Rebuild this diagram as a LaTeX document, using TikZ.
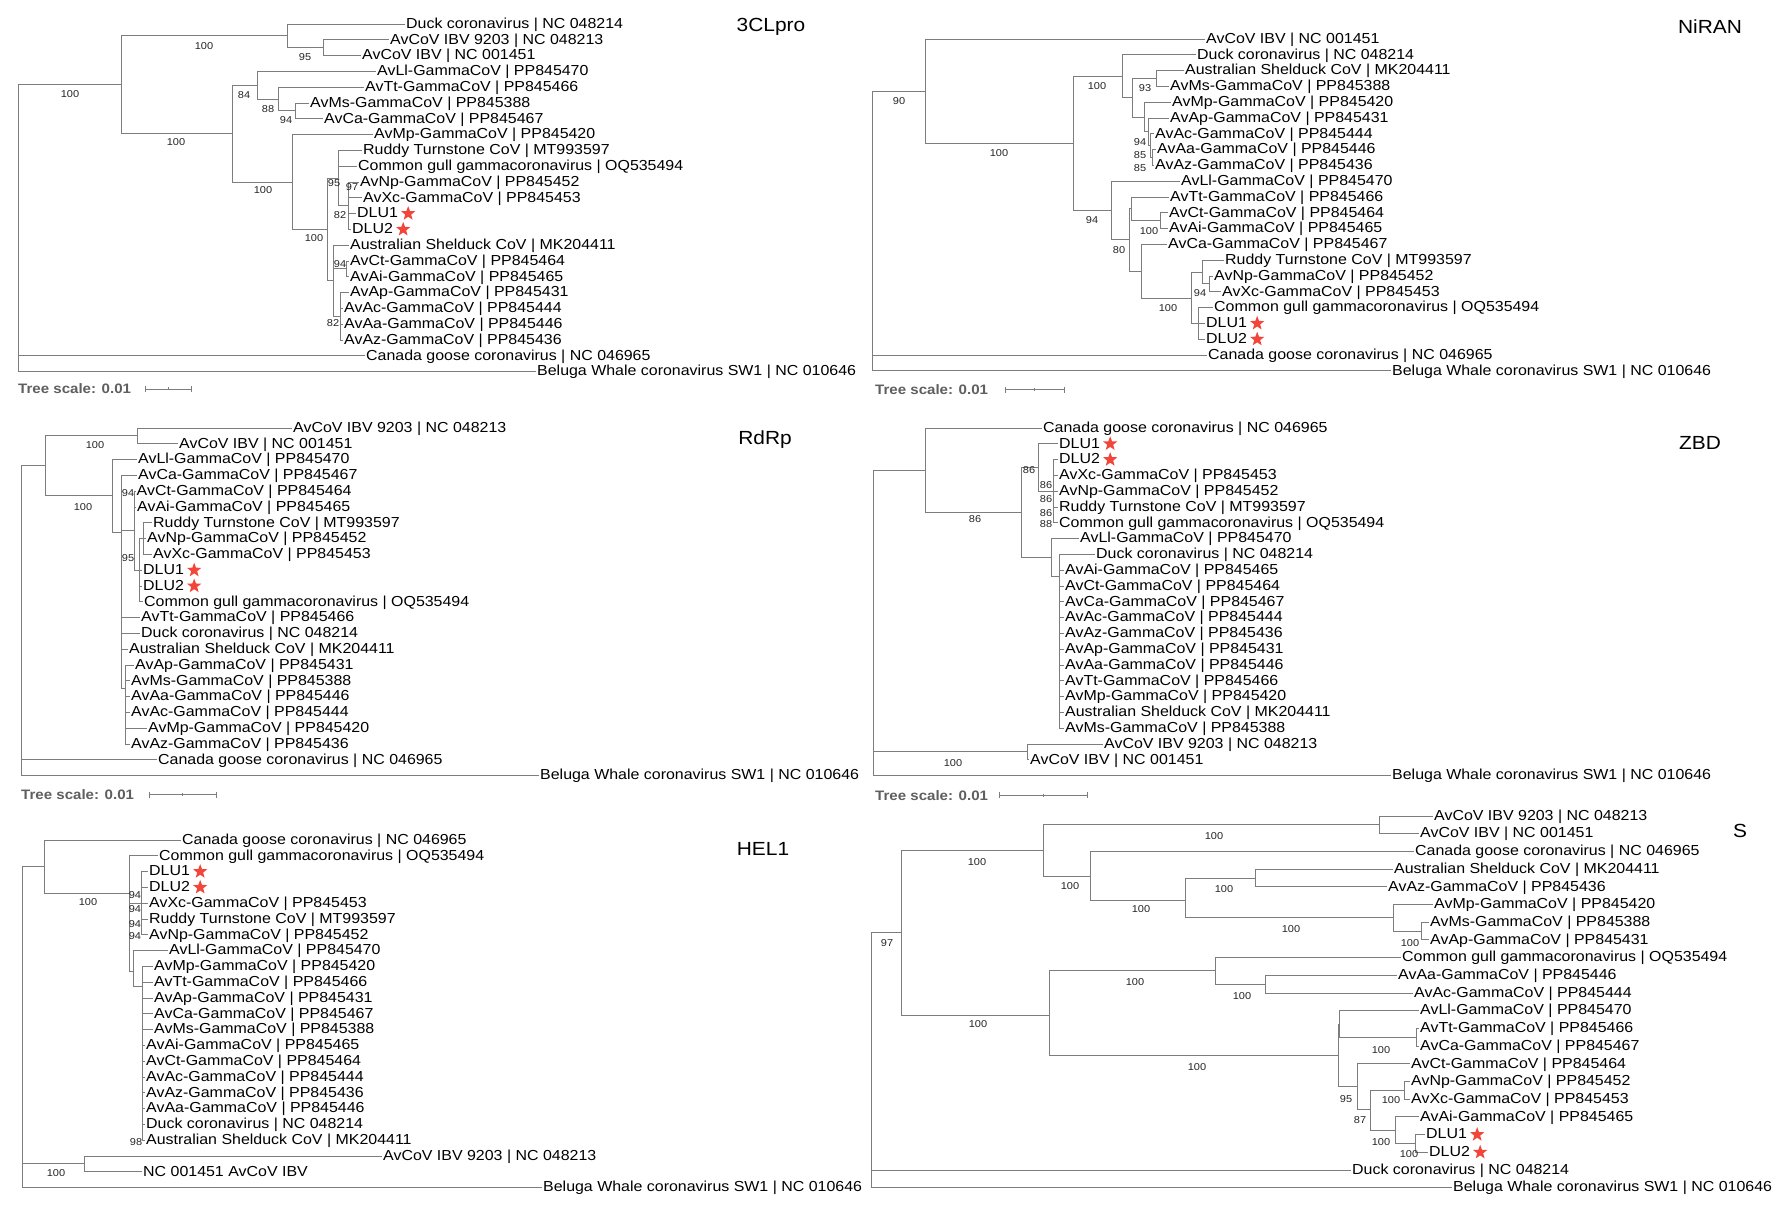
\documentclass[tikz,border=0pt]{standalone}
\usepackage{fontspec}
\setmainfont{Liberation Sans}[FakeStretch=1.10]
\usetikzlibrary{shapes.geometric}

\definecolor{branchgray}{RGB}{125,125,125}
\definecolor{starred}{RGB}{243,70,58}
\definecolor{scalegray}{RGB}{95,95,95}

\tikzset{
  leaf/.style={anchor=west, inner sep=1pt, text height=11pt, text depth=2.5pt, font=\fontsize{14.5}{16}\selectfont},
  boot/.style={inner sep=0pt, font=\fontsize{10}{11}\selectfont, text=black!85},
  branch/.style={draw=branchgray, line width=0.9pt},
  paneltitle/.style={inner sep=0pt, font=\fontsize{19}{20}\selectfont},
  scaletext/.style={anchor=west, inner sep=0pt, font=\bfseries\fontsize{13.7}{15}\selectfont, text=scalegray},
  scalebar/.style={draw=branchgray, line width=0.8pt},
  dlustar/.style={star, star points=5, star point ratio=2.4, minimum size=15pt, inner sep=0pt, fill=starred, draw=none}
}

\begin{document}
\begin{tikzpicture}[x=1pt, y=-1pt]
\fill[white] (0,0) rectangle (1788,1209);
\useasboundingbox (0,0) rectangle (1788,1209);

% ---------------- 3CLpro
\begin{scope}[yshift=-24pt, y=-15.8pt]
\node[paneltitle] (atitle) at (771,0.2) {3CLpro};
\node[leaf] (a0) at (405,0) {Duck coronavirus | NC 048214};
\node[leaf] (a1) at (389,1) {AvCoV IBV 9203 | NC 048213};
\node[leaf] (a2) at (361,2) {AvCoV IBV | NC 001451};
\node[leaf] (a3) at (376,3) {AvLl-GammaCoV | PP845470};
\node[leaf] (a4) at (364,4) {AvTt-GammaCoV | PP845466};
\node[leaf] (a5) at (309,5) {AvMs-GammaCoV | PP845388};
\node[leaf] (a6) at (323,6) {AvCa-GammaCoV | PP845467};
\node[leaf] (a7) at (373,7) {AvMp-GammaCoV | PP845420};
\node[leaf] (a8) at (362,8) {Ruddy Turnstone CoV | MT993597};
\node[leaf] (a9) at (357,9) {Common gull gammacoronavirus | OQ535494};
\node[leaf] (a10) at (359,10) {AvNp-GammaCoV | PP845452};
\node[leaf] (a11) at (362,11) {AvXc-GammaCoV | PP845453};
\node[leaf] (a12) at (356,12) {DLU1};
\node[leaf] (a13) at (351,13) {DLU2};
\node[leaf] (a14) at (349,14) {Australian Shelduck CoV | MK204411};
\node[leaf] (a15) at (349,15) {AvCt-GammaCoV | PP845464};
\node[leaf] (a16) at (349,16) {AvAi-GammaCoV | PP845465};
\node[leaf] (a17) at (349,17) {AvAp-GammaCoV | PP845431};
\node[leaf] (a18) at (343,18) {AvAc-GammaCoV | PP845444};
\node[leaf] (a19) at (343,19) {AvAa-GammaCoV | PP845446};
\node[leaf] (a20) at (343,20) {AvAz-GammaCoV | PP845436};
\node[leaf] (a21) at (365,21) {Canada goose coronavirus | NC 046965};
\node[leaf] (a22) at (536,22) {Beluga Whale coronavirus SW1 | NC 010646};
\node[dlustar] (a12s) at ([xshift=9pt]a12.east) {};
\node[dlustar] (a13s) at ([xshift=9pt]a13.east) {};

\coordinate (aR) at (18,3.84);
\coordinate (aN1) at (121,3.84);
\coordinate (aN2) at (287,0.75);
\coordinate (aB) at (323,1.5);
\coordinate (aN3) at (232,6.94);
\coordinate (aN4) at (257,3.875);
\coordinate (aN7) at (278,4.75);
\coordinate (aN8) at (295,5.5);
\coordinate (aN5) at (292,10);
\coordinate (aN6) at (327,13);
\coordinate (aN9) at (338,9.75);
\coordinate (aN11) at (348,11.5);
\coordinate (aN10) at (333,16.25);
\coordinate (aN12) at (346,15.5);
\coordinate (aN13) at (340,18.5);

\draw[branch] (aR) |- (aN1) (aR) |- (a21.west) (aR) |- (a22.west)
  (aN1) |- (aN2) (aN1) |- (aN3)
  (aN2) |- (a0.west) (aN2) |- (aB)
  (aB) |- (a1.west) (aB) |- (a2.west)
  (aN3) |- (aN4) (aN3) |- (aN5)
  (aN4) |- (a3.west) (aN4) |- (aN7)
  (aN7) |- (a4.west) (aN7) |- (aN8)
  (aN8) |- (a5.west) (aN8) |- (a6.west)
  (aN5) |- (a7.west) (aN5) |- (aN6)
  (aN6) |- (aN9) (aN6) |- (aN10)
  (aN9) |- (a8.west) (aN9) |- (a9.west) (aN9) |- (aN11)
  (aN11) |- (a10.west) (aN11) |- (a11.west) (aN11) |- (a12.west) (aN11) |- (a13.west)
  (aN10) |- (a14.west) (aN10) |- (aN12) (aN10) |- (aN13)
  (aN12) |- (a15.west) (aN12) |- (a16.west)
  (aN13) |- (a17.west) (aN13) |- (a18.west) (aN13) |- (a19.west) (aN13) |- (a20.west);

\node[boot] (ab1) at (70,4.45) {100};
\node[boot] (ab2) at (204,1.4) {100};
\node[boot] (ab3) at (305,2.1) {95};
\node[boot] (ab4) at (176,7.5) {100};
\node[boot] (ab5) at (244,4.5) {84};
\node[boot] (ab6) at (268,5.4) {88};
\node[boot] (ab7) at (286,6.1) {94};
\node[boot] (ab8) at (263,10.5) {100};
\node[boot] (ab9) at (314,13.55) {100};
\node[boot] (ab10) at (334,10.05) {95};
\node[boot] (ab11) at (352,10.3) {97};
\node[boot] (ab12) at (340,12.1) {82};
\node[boot] (ab13) at (340,15.2) {94};
\node[boot] (ab14) at (333,18.9) {82};

\node[scaletext] (ascale) at (18,23.1) {Tree scale: 0.01};
\coordinate (asb1) at (145,23.1);
\coordinate (asbm) at (168,23.1);
\coordinate (asb2) at (191,23.1);
\draw[scalebar] (asb1) -- (asb2)
  ([yshift=3pt]asb1) -- ([yshift=-3pt]asb1) ([yshift=3pt]asb2) -- ([yshift=-3pt]asb2)
  ([yshift=1.5pt]asbm) -- ([yshift=-1.5pt]asbm);
\end{scope}

% ---------------- NiRAN
\begin{scope}[yshift=-39pt, y=-15.8pt]
\node[paneltitle] (btitle) at (1710,-0.8) {NiRAN};
\node[leaf] (b0) at (1205,0) {AvCoV IBV | NC 001451};
\node[leaf] (b1) at (1196,1) {Duck coronavirus | NC 048214};
\node[leaf] (b2) at (1184,2) {Australian Shelduck CoV | MK204411};
\node[leaf] (b3) at (1169,3) {AvMs-GammaCoV | PP845388};
\node[leaf] (b4) at (1171,4) {AvMp-GammaCoV | PP845420};
\node[leaf] (b5) at (1169,5) {AvAp-GammaCoV | PP845431};
\node[leaf] (b6) at (1154,6) {AvAc-GammaCoV | PP845444};
\node[leaf] (b7) at (1156,7) {AvAa-GammaCoV | PP845446};
\node[leaf] (b8) at (1154,8) {AvAz-GammaCoV | PP845436};
\node[leaf] (b9) at (1180,9) {AvLl-GammaCoV | PP845470};
\node[leaf] (b10) at (1169,10) {AvTt-GammaCoV | PP845466};
\node[leaf] (b11) at (1168,11) {AvCt-GammaCoV | PP845464};
\node[leaf] (b12) at (1168,12) {AvAi-GammaCoV | PP845465};
\node[leaf] (b13) at (1167,13) {AvCa-GammaCoV | PP845467};
\node[leaf] (b14) at (1224,14) {Ruddy Turnstone CoV | MT993597};
\node[leaf] (b15) at (1213,15) {AvNp-GammaCoV | PP845452};
\node[leaf] (b16) at (1221,16) {AvXc-GammaCoV | PP845453};
\node[leaf] (b17) at (1213,17) {Common gull gammacoronavirus | OQ535494};
\node[leaf] (b18) at (1205,18) {DLU1};
\node[leaf] (b19) at (1205,19) {DLU2};
\node[leaf] (b20) at (1207,20) {Canada goose coronavirus | NC 046965};
\node[leaf] (b21) at (1391,21) {Beluga Whale coronavirus SW1 | NC 010646};
\node[dlustar] (b18s) at ([xshift=9pt]b18.east) {};
\node[dlustar] (b19s) at ([xshift=9pt]b19.east) {};

\coordinate (bR) at (872,3.3);
\coordinate (bN1) at (925,3.3);
\coordinate (bN2) at (1073,6.61);
\coordinate (bN3) at (1122,2.36);
\coordinate (bN5) at (1132,3.72);
\coordinate (bN6) at (1156,2.5);
\coordinate (bN7) at (1144,4.94);
\coordinate (bN8) at (1148,5.875);
\coordinate (bN9) at (1150,6.75);
\coordinate (bN10) at (1152,7.5);
\coordinate (bN4) at (1111,10.86);
\coordinate (bN11) at (1129,12.7);
\coordinate (bN12) at (1131,10.75);
\coordinate (bN14) at (1160,11.5);
\coordinate (bN13) at (1141,14.7);
\coordinate (bN15) at (1191,16.4);
\coordinate (bN16) at (1202,14.75);
\coordinate (bN18) at (1209,15.5);
\coordinate (bN17) at (1198,18);

\draw[branch] (bR) |- (bN1) (bR) |- (b20.west) (bR) |- (b21.west)
  (bN1) |- (b0.west) (bN1) |- (bN2)
  (bN2) |- (bN3) (bN2) |- (bN4)
  (bN3) |- (b1.west) (bN3) |- (bN5)
  (bN5) |- (bN6) (bN5) |- (bN7)
  (bN6) |- (b2.west) (bN6) |- (b3.west)
  (bN7) |- (b4.west) (bN7) |- (bN8)
  (bN8) |- (b5.west) (bN8) |- (bN9)
  (bN9) |- (b6.west) (bN9) |- (bN10)
  (bN10) |- (b7.west) (bN10) |- (b8.west)
  (bN4) |- (b9.west) (bN4) |- (bN11)
  (bN11) |- (bN12) (bN11) |- (bN13)
  (bN12) |- (b10.west) (bN12) |- (bN14)
  (bN14) |- (b11.west) (bN14) |- (b12.west)
  (bN13) |- (b13.west) (bN13) |- (bN15)
  (bN15) |- (bN16) (bN15) |- (bN17)
  (bN16) |- (b14.west) (bN16) |- (bN18)
  (bN18) |- (b15.west) (bN18) |- (b16.west)
  (bN17) |- (b17.west) (bN17) |- (b18.west) (bN17) |- (b19.west);

\node[boot] (bb1) at (899,3.9) {90};
\node[boot] (bb2) at (999,7.2) {100};
\node[boot] (bb3) at (1097,2.96) {100};
\node[boot] (bb4) at (1092,11.46) {94};
\node[boot] (bb5) at (1145,3.1) {93};
\node[boot] (bb6) at (1140,6.5) {94};
\node[boot] (bb7) at (1140,7.35) {85};
\node[boot] (bb8) at (1140,8.15) {85};
\node[boot] (bb9) at (1119,13.35) {80};
\node[boot] (bb10) at (1149,12.15) {100};
\node[boot] (bb11) at (1168,17.0) {100};
\node[boot] (bb12) at (1200,16.1) {94};

\node[scaletext] (bscale) at (875,22.2) {Tree scale: 0.01};
\coordinate (bsb1) at (1005,22.2);
\coordinate (bsbm) at (1034,22.2);
\coordinate (bsb2) at (1064,22.2);
\draw[scalebar] (bsb1) -- (bsb2)
  ([yshift=3pt]bsb1) -- ([yshift=-3pt]bsb1) ([yshift=3pt]bsb2) -- ([yshift=-3pt]bsb2)
  ([yshift=1.5pt]bsbm) -- ([yshift=-1.5pt]bsbm);
\end{scope}

% ---------------- RdRp
\begin{scope}[yshift=-428pt, y=-15.8pt]
\node[paneltitle] (ctitle) at (765,0.76) {RdRp};
\node[leaf] (c0) at (292,0) {AvCoV IBV 9203 | NC 048213};
\node[leaf] (c1) at (178,1) {AvCoV IBV | NC 001451};
\node[leaf] (c2) at (137,2) {AvLl-GammaCoV | PP845470};
\node[leaf] (c3) at (137,3) {AvCa-GammaCoV | PP845467};
\node[leaf] (c4) at (135.5,4) {AvCt-GammaCoV | PP845464};
\node[leaf] (c5) at (136,5) {AvAi-GammaCoV | PP845465};
\node[leaf] (c6) at (152,6) {Ruddy Turnstone CoV | MT993597};
\node[leaf] (c7) at (146,7) {AvNp-GammaCoV | PP845452};
\node[leaf] (c8) at (152,8) {AvXc-GammaCoV | PP845453};
\node[leaf] (c9) at (142,9) {DLU1};
\node[leaf] (c10) at (142,10) {DLU2};
\node[leaf] (c11) at (143,11) {Common gull gammacoronavirus | OQ535494};
\node[leaf] (c12) at (140,12) {AvTt-GammaCoV | PP845466};
\node[leaf] (c13) at (140,13) {Duck coronavirus | NC 048214};
\node[leaf] (c14) at (128,14) {Australian Shelduck CoV | MK204411};
\node[leaf] (c15) at (134,15) {AvAp-GammaCoV | PP845431};
\node[leaf] (c16) at (130,16) {AvMs-GammaCoV | PP845388};
\node[leaf] (c17) at (130,17) {AvAa-GammaCoV | PP845446};
\node[leaf] (c18) at (130,18) {AvAc-GammaCoV | PP845444};
\node[leaf] (c19) at (147,19) {AvMp-GammaCoV | PP845420};
\node[leaf] (c20) at (130,20) {AvAz-GammaCoV | PP845436};
\node[leaf] (c21) at (157,21) {Canada goose coronavirus | NC 046965};
\node[leaf] (c22) at (539,22) {Beluga Whale coronavirus SW1 | NC 010646};
\node[dlustar] (c9s) at ([xshift=9pt]c9.east) {};
\node[dlustar] (c10s) at ([xshift=9pt]c10.east) {};

\coordinate (cR) at (21,2.4);
\coordinate (cN1) at (45,2.4);
\coordinate (cN2) at (137,0.5);
\coordinate (cN3) at (112,4.3);
\coordinate (cN4) at (121,6.6);
\coordinate (cN5) at (134,6.5);
\coordinate (cN6) at (139,9);
\coordinate (cN8) at (143,7);
\coordinate (cN7) at (125,16.5);

\draw[branch] (cR) |- (cN1) (cR) |- (c21.west) (cR) |- (c22.west)
  (cN1) |- (cN2) (cN1) |- (cN3)
  (cN2) |- (c0.west) (cN2) |- (c1.west)
  (cN3) |- (c2.west) (cN3) |- (cN4)
  (cN4) |- (c3.west) (cN4) |- (cN5) (cN4) |- (c12.west) (cN4) |- (c13.west)
  (cN4) |- (c14.west) (cN4) |- (cN7)
  (cN5) |- (c4.west) (cN5) |- (c5.west) (cN5) |- (cN6)
  (cN6) |- (cN8) (cN6) |- (c9.west) (cN6) |- (c10.west) (cN6) |- (c11.west)
  (cN8) |- (c6.west) (cN8) |- (c7.west) (cN8) |- (c8.west)
  (cN7) |- (c15.west) (cN7) |- (c16.west) (cN7) |- (c17.west)
  (cN7) |- (c18.west) (cN7) |- (c19.west) (cN7) |- (c20.west);

\node[boot] (cb1) at (95,1.1) {100};
\node[boot] (cb2) at (83,5.0) {100};
\node[boot] (cb3) at (128,4.1) {94};
\node[boot] (cb4) at (128,8.2) {95};

\node[scaletext] (cscale) at (21,23.2) {Tree scale: 0.01};
\coordinate (csb1) at (149,23.2);
\coordinate (csbm) at (182,23.2);
\coordinate (csb2) at (216,23.2);
\draw[scalebar] (csb1) -- (csb2)
  ([yshift=3pt]csb1) -- ([yshift=-3pt]csb1) ([yshift=3pt]csb2) -- ([yshift=-3pt]csb2)
  ([yshift=1.5pt]csbm) -- ([yshift=-1.5pt]csbm);
\end{scope}

% ---------------- ZBD
\begin{scope}[yshift=-428pt, y=-15.8pt]
\node[paneltitle] (dtitle) at (1700,0.95) {ZBD};
\node[leaf] (d0) at (1042,0) {Canada goose coronavirus | NC 046965};
\node[leaf] (d1) at (1058,1) {DLU1};
\node[leaf] (d2) at (1058,2) {DLU2};
\node[leaf] (d3) at (1058,3) {AvXc-GammaCoV | PP845453};
\node[leaf] (d4) at (1058,4) {AvNp-GammaCoV | PP845452};
\node[leaf] (d5) at (1058,5) {Ruddy Turnstone CoV | MT993597};
\node[leaf] (d6) at (1058,6) {Common gull gammacoronavirus | OQ535494};
\node[leaf] (d7) at (1079,7) {AvLl-GammaCoV | PP845470};
\node[leaf] (d8) at (1095,8) {Duck coronavirus | NC 048214};
\node[leaf] (d9) at (1064,9) {AvAi-GammaCoV | PP845465};
\node[leaf] (d10) at (1064,10) {AvCt-GammaCoV | PP845464};
\node[leaf] (d11) at (1064,11) {AvCa-GammaCoV | PP845467};
\node[leaf] (d12) at (1064,12) {AvAc-GammaCoV | PP845444};
\node[leaf] (d13) at (1064,13) {AvAz-GammaCoV | PP845436};
\node[leaf] (d14) at (1064,14) {AvAp-GammaCoV | PP845431};
\node[leaf] (d15) at (1064,15) {AvAa-GammaCoV | PP845446};
\node[leaf] (d16) at (1064,16) {AvTt-GammaCoV | PP845466};
\node[leaf] (d17) at (1064,17) {AvMp-GammaCoV | PP845420};
\node[leaf] (d18) at (1064,18) {Australian Shelduck CoV | MK204411};
\node[leaf] (d19) at (1064,19) {AvMs-GammaCoV | PP845388};
\node[leaf] (d20) at (1103,20) {AvCoV IBV 9203 | NC 048213};
\node[leaf] (d21) at (1029,21) {AvCoV IBV | NC 001451};
\node[leaf] (d22) at (1391,22) {Beluga Whale coronavirus SW1 | NC 010646};
\node[dlustar] (d1s) at ([xshift=9pt]d1.east) {};
\node[dlustar] (d2s) at ([xshift=9pt]d2.east) {};

\coordinate (dR) at (873,2.68);
\coordinate (dN1) at (925,2.68);
\coordinate (dN2) at (1021,5.35);
\coordinate (dN3) at (1038,2.5);
\coordinate (dN3b) at (1053,4);
\coordinate (dN4) at (1051,8.2);
\coordinate (dN5) at (1059,9.4);
\coordinate (dN10) at (1027,20.5);

\draw[branch] (dR) |- (dN1) (dR) |- (dN10) (dR) |- (d22.west)
  (dN1) |- (d0.west) (dN1) |- (dN2)
  (dN2) |- (dN3) (dN2) |- (dN4)
  (dN3) |- (d1.west) (dN3) |- (dN3b)
  (dN3b) |- (d2.west) (dN3b) |- (d3.west) (dN3b) |- (d4.west) (dN3b) |- (d5.west) (dN3b) |- (d6.west)
  (dN4) |- (d7.west) (dN4) |- (dN5)
  (dN5) |- (d8.west) (dN5) |- (d9.west) (dN5) |- (d10.west) (dN5) |- (d11.west)
  (dN5) |- (d12.west) (dN5) |- (d13.west) (dN5) |- (d14.west) (dN5) |- (d15.west)
  (dN5) |- (d16.west) (dN5) |- (d17.west) (dN5) |- (d18.west) (dN5) |- (d19.west)
  (dN10) |- (d20.west) (dN10) |- (d21.west);

\node[boot] (db1) at (975,5.75) {86};
\node[boot] (db2) at (1029,2.65) {86};
\node[boot] (db3) at (1046,3.6) {86};
\node[boot] (db4) at (1046,4.5) {86};
\node[boot] (db5) at (1046,5.4) {86};
\node[boot] (db6) at (1046,6.1) {88};
\node[boot] (db7) at (953,21.2) {100};

\node[scaletext] (dscale) at (875,23.25) {Tree scale: 0.01};
\coordinate (dsb1) at (999,23.25);
\coordinate (dsbm) at (1043,23.25);
\coordinate (dsb2) at (1087,23.25);
\draw[scalebar] (dsb1) -- (dsb2)
  ([yshift=3pt]dsb1) -- ([yshift=-3pt]dsb1) ([yshift=3pt]dsb2) -- ([yshift=-3pt]dsb2)
  ([yshift=1.5pt]dsbm) -- ([yshift=-1.5pt]dsbm);
\end{scope}

% ---------------- HEL1
\begin{scope}[yshift=-840pt, y=-15.8pt]
\node[paneltitle] (etitle) at (763,0.57) {HEL1};
\node[leaf] (e0) at (181,0) {Canada goose coronavirus | NC 046965};
\node[leaf] (e1) at (158,1) {Common gull gammacoronavirus | OQ535494};
\node[leaf] (e2) at (148,2) {DLU1};
\node[leaf] (e3) at (148,3) {DLU2};
\node[leaf] (e4) at (148,4) {AvXc-GammaCoV | PP845453};
\node[leaf] (e5) at (148,5) {Ruddy Turnstone CoV | MT993597};
\node[leaf] (e6) at (148,6) {AvNp-GammaCoV | PP845452};
\node[leaf] (e7) at (168,7) {AvLl-GammaCoV | PP845470};
\node[leaf] (e8) at (153,8) {AvMp-GammaCoV | PP845420};
\node[leaf] (e9) at (153,9) {AvTt-GammaCoV | PP845466};
\node[leaf] (e10) at (153,10) {AvAp-GammaCoV | PP845431};
\node[leaf] (e11) at (153,11) {AvCa-GammaCoV | PP845467};
\node[leaf] (e12) at (153,12) {AvMs-GammaCoV | PP845388};
\node[leaf] (e13) at (145,13) {AvAi-GammaCoV | PP845465};
\node[leaf] (e14) at (145,14) {AvCt-GammaCoV | PP845464};
\node[leaf] (e15) at (145,15) {AvAc-GammaCoV | PP845444};
\node[leaf] (e16) at (145,16) {AvAz-GammaCoV | PP845436};
\node[leaf] (e17) at (145,17) {AvAa-GammaCoV | PP845446};
\node[leaf] (e18) at (145,18) {Duck coronavirus | NC 048214};
\node[leaf] (e19) at (145,19) {Australian Shelduck CoV | MK204411};
\node[leaf] (e20) at (382,20) {AvCoV IBV 9203 | NC 048213};
\node[leaf] (e21) at (142,21) {NC 001451 AvCoV IBV};
\node[leaf] (e22) at (542,22) {Beluga Whale coronavirus SW1 | NC 010646};
\node[dlustar] (e2s) at ([xshift=9pt]e2.east) {};
\node[dlustar] (e3s) at ([xshift=9pt]e3.east) {};

\coordinate (eR) at (22,1.7);
\coordinate (eN1) at (44,1.7);
\coordinate (eN2) at (129,3.4);
\coordinate (eN3) at (141,4);
\coordinate (eN4) at (133,8.3);
\coordinate (eN5) at (142,9.3);
\coordinate (eN10) at (84,20.5);

\draw[branch] (eR) |- (eN1) (eR) |- (eN10) (eR) |- (e22.west)
  (eN1) |- (e0.west) (eN1) |- (eN2)
  (eN2) |- (e1.west) (eN2) |- (eN3) (eN2) |- (eN4)
  (eN3) |- (e2.west) (eN3) |- (e3.west) (eN3) |- (e4.west) (eN3) |- (e5.west) (eN3) |- (e6.west)
  (eN4) |- (e7.west) (eN4) |- (eN5)
  (eN5) |- (e8.west) (eN5) |- (e9.west) (eN5) |- (e10.west) (eN5) |- (e11.west)
  (eN5) |- (e12.west) (eN5) |- (e13.west) (eN5) |- (e14.west) (eN5) |- (e15.west)
  (eN5) |- (e16.west) (eN5) |- (e17.west) (eN5) |- (e18.west) (eN5) |- (e19.west)
  (eN10) |- (e20.west) (eN10) |- (e21.west);

\node[boot] (eb1) at (88,3.95) {100};
\node[boot] (eb2) at (135,3.5) {94};
\node[boot] (eb3) at (135,4.4) {94};
\node[boot] (eb4) at (135,5.3) {94};
\node[boot] (eb5) at (135,6.1) {94};
\node[boot] (eb6) at (136,19.1) {98};
\node[boot] (eb7) at (56,21.1) {100};
\end{scope}

% ---------------- S
\begin{scope}[yshift=-816pt, y=-17.7pt]
\node[paneltitle] (ftitle) at (1740,0.85) {S};
\node[leaf] (f0) at (1433,0) {AvCoV IBV 9203 | NC 048213};
\node[leaf] (f1) at (1419,1) {AvCoV IBV | NC 001451};
\node[leaf] (f2) at (1414,2) {Canada goose coronavirus | NC 046965};
\node[leaf] (f3) at (1393,3) {Australian Shelduck CoV | MK204411};
\node[leaf] (f4) at (1387,4) {AvAz-GammaCoV | PP845436};
\node[leaf] (f5) at (1433,5) {AvMp-GammaCoV | PP845420};
\node[leaf] (f6) at (1429,6) {AvMs-GammaCoV | PP845388};
\node[leaf] (f7) at (1429,7) {AvAp-GammaCoV | PP845431};
\node[leaf] (f8) at (1401,8) {Common gull gammacoronavirus | OQ535494};
\node[leaf] (f9) at (1397,9) {AvAa-GammaCoV | PP845446};
\node[leaf] (f10) at (1413,10) {AvAc-GammaCoV | PP845444};
\node[leaf] (f11) at (1419,11) {AvLl-GammaCoV | PP845470};
\node[leaf] (f12) at (1419,12) {AvTt-GammaCoV | PP845466};
\node[leaf] (f13) at (1419,13) {AvCa-GammaCoV | PP845467};
\node[leaf] (f14) at (1410,14) {AvCt-GammaCoV | PP845464};
\node[leaf] (f15) at (1410,15) {AvNp-GammaCoV | PP845452};
\node[leaf] (f16) at (1410,16) {AvXc-GammaCoV | PP845453};
\node[leaf] (f17) at (1419,17) {AvAi-GammaCoV | PP845465};
\node[leaf] (f18) at (1425,18) {DLU1};
\node[leaf] (f19) at (1428,19) {DLU2};
\node[leaf] (f20) at (1351,20) {Duck coronavirus | NC 048214};
\node[leaf] (f21) at (1452,21) {Beluga Whale coronavirus SW1 | NC 010646};
\node[dlustar] (f18s) at ([xshift=9pt]f18.east) {};
\node[dlustar] (f19s) at ([xshift=9pt]f19.east) {};

\coordinate (fR) at (871,6.6);
\coordinate (fN1) at (901,6.6);
\coordinate (fN2) at (1043,1.95);
\coordinate (fN4) at (1379,0.5);
\coordinate (fN5) at (1090,3.4);
\coordinate (fN6) at (1185,4.75);
\coordinate (fN7) at (1255,3.5);
\coordinate (fN8) at (1393,5.75);
\coordinate (fN9) at (1421,6.5);
\coordinate (fN3) at (1049,11.25);
\coordinate (fN10) at (1215,8.75);
\coordinate (fN12) at (1265,9.5);
\coordinate (fN11) at (1338,13.5);
\coordinate (fN13) at (1339,11.75);
\coordinate (fN15) at (1416,12.5);
\coordinate (fN14) at (1357,15.3);
\coordinate (fN16) at (1370,16.6);
\coordinate (fN17) at (1404,15.5);
\coordinate (fN18) at (1395,17.75);
\coordinate (fN19) at (1415,18.5);

\draw[branch] (fR) |- (fN1) (fR) |- (f20.west) (fR) |- (f21.west)
  (fN1) |- (fN2) (fN1) |- (fN3)
  (fN2) |- (fN4) (fN2) |- (fN5)
  (fN4) |- (f0.west) (fN4) |- (f1.west)
  (fN5) |- (f2.west) (fN5) |- (fN6)
  (fN6) |- (fN7) (fN6) |- (fN8)
  (fN7) |- (f3.west) (fN7) |- (f4.west)
  (fN8) |- (f5.west) (fN8) |- (fN9)
  (fN9) |- (f6.west) (fN9) |- (f7.west)
  (fN3) |- (fN10) (fN3) |- (fN11)
  (fN10) |- (f8.west) (fN10) |- (fN12)
  (fN12) |- (f9.west) (fN12) |- (f10.west)
  (fN11) |- (fN13) (fN11) |- (fN14)
  (fN13) |- (f11.west) (fN13) |- (fN15)
  (fN15) |- (f12.west) (fN15) |- (f13.west)
  (fN14) |- (f14.west) (fN14) |- (fN16)
  (fN16) |- (fN17) (fN16) |- (fN18)
  (fN17) |- (f15.west) (fN17) |- (f16.west)
  (fN18) |- (f17.west) (fN18) |- (fN19)
  (fN19) |- (f18.west) (fN19) |- (f19.west);

\node[boot] (fb1) at (887,7.2) {97};
\node[boot] (fb2) at (977,2.6) {100};
\node[boot] (fb3) at (978,11.75) {100};
\node[boot] (fb4) at (1214,1.13) {100};
\node[boot] (fb5) at (1070,3.96) {100};
\node[boot] (fb6) at (1141,5.25) {100};
\node[boot] (fb7) at (1224,4.12) {100};
\node[boot] (fb8) at (1291,6.4) {100};
\node[boot] (fb9) at (1410,7.2) {100};
\node[boot] (fb10) at (1135,9.4) {100};
\node[boot] (fb11) at (1197,14.2) {100};
\node[boot] (fb12) at (1242,10.2) {100};
\node[boot] (fb13) at (1381,13.2) {100};
\node[boot] (fb14) at (1346,16.0) {95};
\node[boot] (fb15) at (1360,17.2) {87};
\node[boot] (fb16) at (1391,16.05) {100};
\node[boot] (fb17) at (1381,18.4) {100};
\node[boot] (fb18) at (1409,19.1) {100};
\end{scope}
\end{tikzpicture}
\end{document}
